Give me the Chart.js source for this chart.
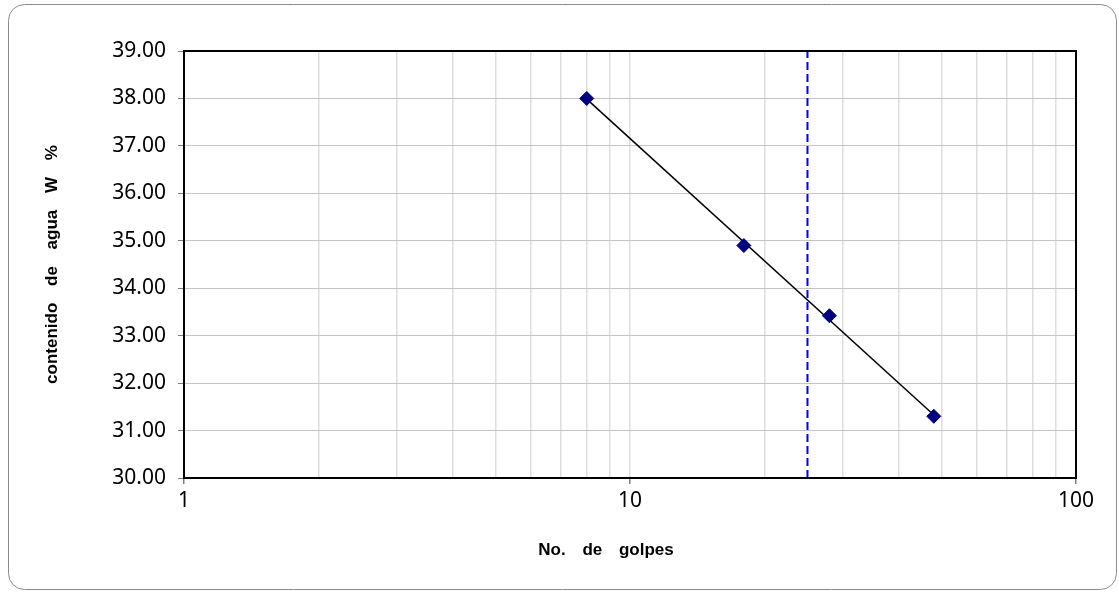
<!DOCTYPE html>
<html>
<head>
<meta charset="utf-8">
<script src="https://cdn.jsdelivr.net/npm/chart.js@4/dist/chart.umd.min.js"></script>
<style>
  html, body { margin: 0; padding: 0; background: #fff; }
  #wrap { width: 1119px; height: 592px; position: relative; }
</style>
</head>
<body>
<div id="wrap"><canvas id="c" width="1119" height="592"></canvas></div>
<script>
// Liquid limit test: number of blows vs. water content
const golpes = [8, 18, 28, 48];
const humedad = [38.00, 34.90, 33.42, 31.30];
const golpesReferencia = 25;
const yTicks = [30, 31, 32, 33, 34, 35, 36, 37, 38, 39];
const xLabels = [1, 10, 100];
const tituloX = 'No. de golpes';
const tituloY = 'contenido de agua W %';

// Least-squares fit of water content against log10(blows)
const lx = golpes.map(v => Math.log10(v));
const mx = lx.reduce((a, b) => a + b, 0) / lx.length;
const my = humedad.reduce((a, b) => a + b, 0) / humedad.length;
let sxy = 0, sxx = 0;
lx.forEach((v, i) => { sxy += (v - mx) * (humedad[i] - my); sxx += (v - mx) * (v - mx); });
const pend = sxy / sxx;
const fit = x => my + pend * (Math.log10(x) - mx);
const xMin = Math.min(...golpes), xMax = Math.max(...golpes);

const tickFont = { family: '"Noto Sans", "Open Sans", sans-serif', size: 21 };
const titleFont = 'bold 17px "Liberation Sans", Arial, sans-serif';

const frame = {
  id: 'frame',
  beforeDraw(chart) {
    const ctx = chart.ctx;
    ctx.save();
    ctx.fillStyle = '#fff';
    ctx.fillRect(0, 0, chart.width, chart.height);
    ctx.strokeStyle = '#8c8c8c';
    ctx.lineWidth = 1;
    ctx.beginPath();
    ctx.roundRect(8.5, 4.5, 1108, 585, 16);
    ctx.stroke();
    ctx.restore();
  },
  afterDatasetsDraw(chart) {
    const a = chart.chartArea, ctx = chart.ctx;
    ctx.save();
    ctx.strokeStyle = '#000';
    ctx.lineWidth = 2;
    ctx.strokeRect(a.left, a.top, a.right - a.left, a.bottom - a.top);
    ctx.restore();
  },
  afterDraw(chart) {
    // axis titles, with the wide word gaps of the original layout
    const ctx = chart.ctx, a = chart.chartArea;
    ctx.save();
    ctx.fillStyle = '#000';
    ctx.font = titleFont;
    ctx.textAlign = 'center';
    ctx.textBaseline = 'middle';
    if ('wordSpacing' in ctx) ctx.wordSpacing = '12px';
    ctx.fillText(tituloX, 606, 550);
    ctx.translate(52, (a.top + a.bottom) / 2);
    ctx.rotate(-Math.PI / 2);
    ctx.fillText(tituloY, 0, 0);
    ctx.restore();
  }
};

new Chart(document.getElementById('c'), {
  type: 'scatter',
  data: {
    datasets: [
      {
        type: 'line',
        data: [{ x: xMin, y: fit(xMin) }, { x: xMax, y: fit(xMax) }],
        borderColor: '#000',
        borderWidth: 1.5,
        pointRadius: 0,
        fill: false,
        order: 2
      },
      {
        type: 'line',
        data: [{ x: golpesReferencia, y: yTicks[0] }, { x: golpesReferencia, y: yTicks[yTicks.length - 1] }],
        borderColor: '#0000ff',
        borderWidth: 2,
        borderDash: [8, 4],
        pointRadius: 0,
        fill: false,
        order: 3
      },
      {
        data: golpes.map((g, i) => ({ x: g, y: humedad[i] })),
        backgroundColor: '#000080',
        borderColor: '#000080',
        pointStyle: 'rectRot',
        pointRadius: 7,
        order: 1
      }
    ]
  },
  options: {
    responsive: false,
    animation: false,
    devicePixelRatio: 1,
    layout: { padding: { top: 51, right: 43, left: 0, bottom: 0 } },
    plugins: { legend: { display: false }, tooltip: { enabled: false } },
    scales: {
      x: {
        type: 'logarithmic',
        min: 1,
        max: 100,
        afterFit(s) { s.height = 114; },
        afterBuildTicks(s) {
          const t = [];
          for (let d = 1; d < 100; d *= 10) for (let k = 1; k < 10; k++) t.push({ value: k * d });
          t.push({ value: 100 });
          s.ticks = t;
        },
        grid: {
          color: '#dedede',
          lineWidth: 1.5,
          tickLength: 6,
          tickColor: c => xLabels.includes(c.tick && c.tick.value) ? '#808080' : 'rgba(0,0,0,0)'
        },
        border: { display: false },
        ticks: {
          autoSkip: false,
          maxRotation: 0,
          padding: 4,
          color: '#000',
          font: tickFont,
          callback: v => xLabels.includes(v) ? String(v) : ''
        }
      },
      y: {
        min: 30,
        max: 39,
        afterFit(s) { s.width = 184; },
        afterBuildTicks(s) { s.ticks = yTicks.map(v => ({ value: v })); },
        grid: { color: '#c4c4c4', lineWidth: 1, tickLength: 6, tickColor: '#808080' },
        border: { display: false },
        ticks: {
          padding: 12,
          color: '#000',
          font: tickFont,
          callback: v => Number(v).toFixed(2)
        }
      }
    }
  },
  plugins: [frame]
});
</script>
</body>
</html>
